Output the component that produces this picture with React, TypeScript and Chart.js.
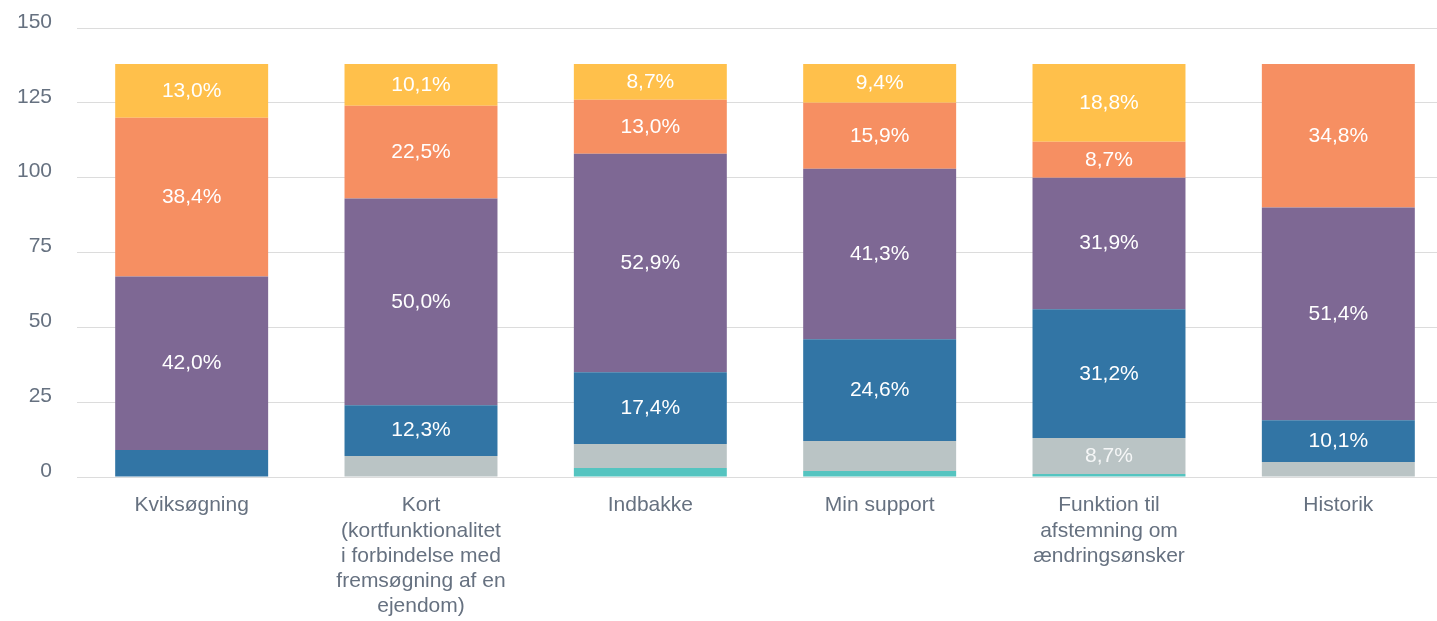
import React, { useEffect, useRef } from "react";
import { Chart, registerables } from "chart.js";

Chart.register(...registerables);

const categories: (string | string[])[] = [
  "Kviksøgning",
  ["Kort", "(kortfunktionalitet", "i forbindelse med", "fremsøgning af en", "ejendom)"],
  "Indbakke",
  "Min support",
  ["Funktion til", "afstemning om", "ændringsønsker"],
  "Historik",
];

const TOTAL = 138;

const tealValues = [0, 0, 3, 2, 1, 0];
const grayValues = [0, 7, 8, 10, 12, 5];
const blueValues = [9, 17, 24, 34, 43, 14];
const purpleValues = [58, 69, 73, 57, 44, 71];
const orangeValues = [53, 31, 18, 22, 12, 48];
const yellowValues = [18, 14, 12, 13, 26, 0];

const yTicks = [0, 25, 50, 75, 100, 125, 150];

const labelPlugin = {
  id: "segLabels",
  afterDatasetsDraw(chart: any) {
    const ctx = chart.ctx;
    ctx.save();
    ctx.font = "21px 'Liberation Sans', Arial, sans-serif";
    ctx.textAlign = "center";
    ctx.textBaseline = "middle";
    chart.data.datasets.forEach((ds: any, di: number) => {
      const meta = chart.getDatasetMeta(di);
      meta.data.forEach((bar: any, i: number) => {
        const v = ds.data[i];
        if (!v || v < 12) return;
        const pct = ((v / TOTAL) * 100).toFixed(1).replace(".", ",") + "%";
        ctx.fillStyle = ds.labelColor || "#ffffff";
        ctx.fillText(pct, bar.x, (bar.y + bar.base) / 2);
      });
    });
    ctx.restore();
  },
};

export default function App() {
  const ref = useRef<HTMLCanvasElement | null>(null);
  useEffect(() => {
    document.body.style.margin = "0";
    document.body.style.overflow = "hidden";
    const font = { family: "'Liberation Sans', Arial, sans-serif", size: 21 };
    const mk = (label: string, data: number[], color: string, labelColor?: string) => ({
      label,
      data,
      backgroundColor: color,
      borderWidth: 0,
      barPercentage: 0.667,
      categoryPercentage: 1,
      labelColor,
    });
    const chart = new Chart(ref.current!, {
      type: "bar",
      data: {
        labels: categories as any,
        datasets: [
          mk("teal", tealValues, "#55C4C0"),
          mk("gray", grayValues, "#BAC4C5", "rgba(255,255,255,0.85)"),
          mk("blue", blueValues, "#3275A5"),
          mk("purple", purpleValues, "#7E6894"),
          mk("orange", orangeValues, "#F68F62"),
          mk("yellow", yellowValues, "#FFC04B"),
        ] as any,
      },
      options: {
        animation: false,
        responsive: false,
        maintainAspectRatio: false,
        layout: { padding: { top: 28, left: 0, right: 0, bottom: 0 } },
        plugins: { legend: { display: false }, tooltip: { enabled: false } },
        scales: {
          x: {
            stacked: true,
            grid: { display: false, drawTicks: false },
            border: { display: false },
            ticks: { color: "#667180", font, padding: 16, maxRotation: 0, autoSkip: false },
            afterFit: (s: any) => {
              s.height = 144;
            },
          },
          y: {
            stacked: true,
            min: 0,
            max: 150,
            afterBuildTicks: (s: any) => {
              s.ticks = yTicks.map((v) => ({ value: v }));
            },
            grid: { color: "#dcdcdc", lineWidth: 1, drawTicks: false },
            border: { display: false },
            ticks: { color: "#667180", font, padding: 25, labelOffset: -6 },
            afterFit: (s: any) => {
              s.width = 77;
              s.paddingTop = 0;
              s.paddingBottom = 0;
            },
          },
        },
      },
      plugins: [labelPlugin],
    });
    return () => chart.destroy();
  }, []);
  return (
    <div style={{ position: "fixed", left: 0, top: 0, width: 1453, height: 621 }}>
      <canvas ref={ref} width={1453} height={621} style={{ width: 1453, height: 621 }} />
    </div>
  );
}
